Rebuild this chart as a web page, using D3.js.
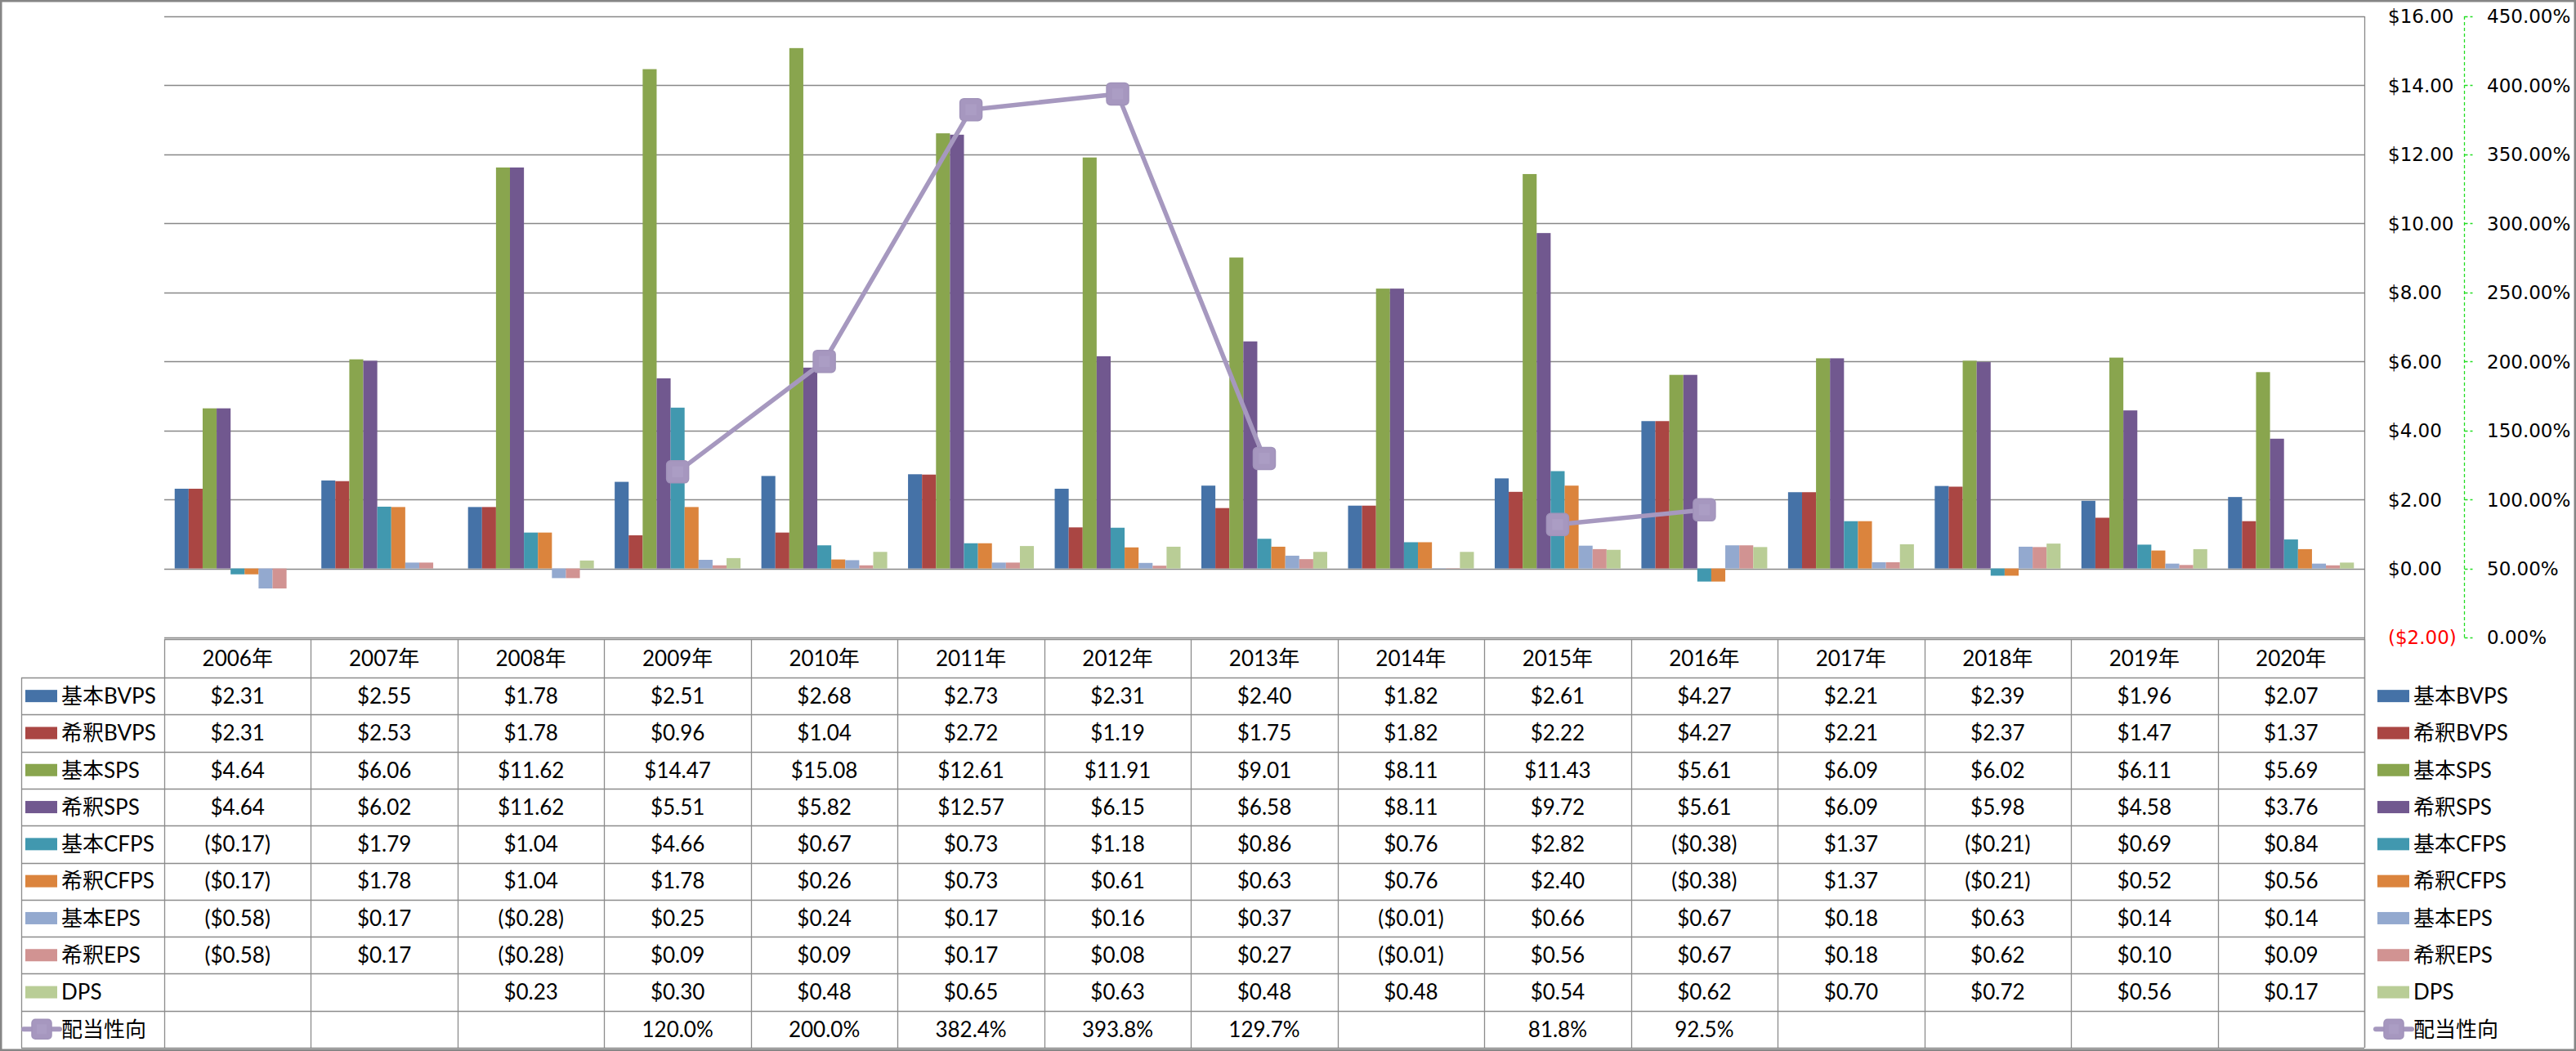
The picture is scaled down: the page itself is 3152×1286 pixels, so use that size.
<!DOCTYPE html>
<html>
<head>
<meta charset="utf-8">
<script src="https://cdn.jsdelivr.net/npm/d3@7"></script>
<style>
  html, body { margin: 0; padding: 0; background: #fff; }
  svg { display: block; }
</style>
</head>
<body>
<svg id="chart" width="3152" height="1286"></svg>
<script>
// ---------------- DATA ----------------
const years = ["2006年","2007年","2008年","2009年","2010年","2011年","2012年","2013年","2014年","2015年","2016年","2017年","2018年","2019年","2020年"];

const seriesNames = ["基本BVPS","希釈BVPS","基本SPS","希釈SPS","基本CFPS","希釈CFPS","基本EPS","希釈EPS","DPS"];
const seriesColors = ["#4572A7","#AA4643","#89A54E","#71588F","#4198AF","#DB843D","#93A9CF","#D19392","#B9CD96"];

const basicBVPS   = [2.31, 2.55, 1.78, 2.51, 2.68, 2.73, 2.31, 2.40, 1.82, 2.61, 4.27, 2.21, 2.39, 1.96, 2.07];
const dilutedBVPS = [2.31, 2.53, 1.78, 0.96, 1.04, 2.72, 1.19, 1.75, 1.82, 2.22, 4.27, 2.21, 2.37, 1.47, 1.37];
const basicSPS    = [4.64, 6.06, 11.62, 14.47, 15.08, 12.61, 11.91, 9.01, 8.11, 11.43, 5.61, 6.09, 6.02, 6.11, 5.69];
const dilutedSPS  = [4.64, 6.02, 11.62, 5.51, 5.82, 12.57, 6.15, 6.58, 8.11, 9.72, 5.61, 6.09, 5.98, 4.58, 3.76];
const basicCFPS   = [-0.17, 1.79, 1.04, 4.66, 0.67, 0.73, 1.18, 0.86, 0.76, 2.82, -0.38, 1.37, -0.21, 0.69, 0.84];
const dilutedCFPS = [-0.17, 1.78, 1.04, 1.78, 0.26, 0.73, 0.61, 0.63, 0.76, 2.40, -0.38, 1.37, -0.21, 0.52, 0.56];
const basicEPS    = [-0.58, 0.17, -0.28, 0.25, 0.24, 0.17, 0.16, 0.37, -0.01, 0.66, 0.67, 0.18, 0.63, 0.14, 0.14];
const dilutedEPS  = [-0.58, 0.17, -0.28, 0.09, 0.09, 0.17, 0.08, 0.27, -0.01, 0.56, 0.67, 0.18, 0.62, 0.10, 0.09];
const dps         = [null, null, 0.23, 0.30, 0.48, 0.65, 0.63, 0.48, 0.48, 0.54, 0.62, 0.70, 0.72, 0.56, 0.17];

const payoutName = "配当性向";
const payoutColor = "#A698BF";
const payoutRatio = [null, null, null, 120.0, 200.0, 382.4, 393.8, 129.7, null, 81.8, 92.5, null, null, null, null];

const dollarTicks  = [16, 14, 12, 10, 8, 6, 4, 2, 0, -2];
const percentTicks = [450, 400, 350, 300, 250, 200, 150, 100, 50, 0];

// ---------------- LAYOUT ----------------
const barSeries = [basicBVPS, dilutedBVPS, basicSPS, dilutedSPS, basicCFPS, dilutedCFPS, basicEPS, dilutedEPS, dps];

const svg = d3.select("#chart");
const W = 3152, H = 1286;
const plotLeft = 201, plotRight = 2893, plotTop = 20, plotBottom = 780;
const tableTop = 782, headerBottom = 829, tableBottom = 1282;
const labelColLeft = 26;
const gridColor = "#888888";
const tableFont = "Lato, 'Noto Sans CJK JP', sans-serif";
const axisFont = "'DejaVu Sans', Verdana, sans-serif";

const x = d3.scaleBand().domain(years).range([plotLeft, plotRight]).padding(0);
const bw = x.bandwidth();
const xInner = d3.scaleBand().domain(d3.range(seriesNames.length))
  .range([bw * 0.071, bw * (1 - 0.071)]).padding(0);
const y = d3.scaleLinear().domain([-2, 16]).range([plotBottom, plotTop]);
const y2 = d3.scaleLinear().domain([0, 450]).range([plotBottom, plotTop]);

// outer border
svg.append("rect").attr("x", 1.25).attr("y", 1.25).attr("width", W - 2.5).attr("height", H - 2.5)
  .attr("fill", "#fff").attr("stroke", "#868686").attr("stroke-width", 2.5);

// gridlines
svg.append("g").selectAll("line").data(dollarTicks).join("line")
  .attr("x1", plotLeft).attr("x2", plotRight)
  .attr("y1", d => Math.round(y(d)) + 0.5).attr("y2", d => Math.round(y(d)) + 0.5)
  .attr("stroke", gridColor).attr("stroke-width", 1.3);

// bars
const gBars = svg.append("g");
barSeries.forEach((vals, si) => {
  gBars.append("g").selectAll("rect")
    .data(vals.map((v, i) => ({ v, year: years[i] })).filter(d => d.v != null))
    .join("rect")
    .attr("x", d => x(d.year) + xInner(si))
    .attr("width", xInner.bandwidth())
    .attr("y", d => Math.min(y(d.v), y(0)))
    .attr("height", d => Math.abs(y(d.v) - y(0)))
    .attr("fill", seriesColors[si]);
});

// payout line
const linePts = payoutRatio.map((v, i) => ({ v, year: years[i] }));
const line = d3.line()
  .defined(d => d.v != null)
  .x(d => x(d.year) + bw / 2)
  .y(d => y2(d.v));
svg.append("path").datum(linePts).attr("d", line)
  .attr("fill", "none").attr("stroke", payoutColor).attr("stroke-width", 5.5)
  .attr("stroke-linejoin", "round");

function marker(g, cx, cy, s) {
  g.append("rect").attr("x", cx - s / 2).attr("y", cy - s / 2).attr("width", s).attr("height", s)
    .attr("rx", s * 0.18).attr("fill", "#A697BF").attr("stroke", "#A193BA").attr("stroke-width", 1.5);
  g.append("rect").attr("x", cx - s * 0.25).attr("y", cy - s * 0.25).attr("width", s * 0.5).attr("height", s * 0.5)
    .attr("fill", "#AB9DC4");
}
const gMarkers = svg.append("g");
linePts.filter(d => d.v != null).forEach(d => marker(gMarkers, x(d.year) + bw / 2, y2(d.v), 27));

// right edge of plot / table
svg.append("line").attr("x1", plotRight + 0.5).attr("x2", plotRight + 0.5)
  .attr("y1", plotTop).attr("y2", tableBottom).attr("stroke", gridColor).attr("stroke-width", 1.3);

// dollar axis labels
svg.append("g").selectAll("text").data(dollarTicks).join("text")
  .attr("x", 2922).attr("y", d => y(d) + 8.4)
  .attr("font-family", axisFont).attr("font-size", 23)
  .attr("fill", d => d < 0 ? "#FF0000" : "#000")
  .text(d => d < 0 ? "($" + Math.abs(d).toFixed(2) + ")" : "$" + d.toFixed(2));

// percent axis
const axX = 3015.5;
svg.append("line").attr("x1", axX).attr("x2", axX).attr("y1", plotTop).attr("y2", plotBottom)
  .attr("stroke", "#22DD22").attr("stroke-width", 1.3).attr("stroke-dasharray", "4,3");
svg.append("g").selectAll("line").data(percentTicks).join("line")
  .attr("x1", axX).attr("x2", axX + 10)
  .attr("y1", d => Math.round(y2(d)) + 0.5).attr("y2", d => Math.round(y2(d)) + 0.5)
  .attr("stroke", "#22DD22").attr("stroke-width", 1.3).attr("stroke-dasharray", "4,3");
svg.append("g").selectAll("text").data(percentTicks).join("text")
  .attr("x", 3043).attr("y", d => y2(d) + 8.4)
  .attr("font-family", axisFont).attr("font-size", 23).attr("fill", "#000")
  .text(d => d.toFixed(2) + "%");

// ---------------- DATA TABLE ----------------
const tableRows = seriesNames.map((n, i) => ({ name: n, vals: barSeries[i], color: seriesColors[i], type: "bar" }));
tableRows.push({ name: payoutName, vals: payoutRatio, color: payoutColor, type: "line" });
const rowH = (tableBottom - headerBottom) / tableRows.length;
const tableColor = "#8C8C8C";
const gT = svg.append("g");

// header
gT.append("line").attr("x1", plotLeft).attr("x2", plotRight).attr("y1", tableTop + 0.5).attr("y2", tableTop + 0.5)
  .attr("stroke", tableColor).attr("stroke-width", 1.3);
gT.selectAll("text.hdr").data(years).join("text").attr("class", "hdr")
  .attr("x", d => x(d) + bw / 2).attr("y", (tableTop + headerBottom) / 2 + 9.3)
  .attr("text-anchor", "middle").attr("font-family", tableFont).attr("font-size", 26)
  .text(d => d);
// vertical lines
const vlines = years.map(d => x(d)).concat([plotRight]);
gT.selectAll("line.v").data(vlines).join("line").attr("class", "v")
  .attr("x1", d => Math.round(d) + 0.5).attr("x2", d => Math.round(d) + 0.5)
  .attr("y1", tableTop).attr("y2", tableBottom)
  .attr("stroke", tableColor).attr("stroke-width", 1.3);
gT.append("line").attr("x1", labelColLeft + 0.5).attr("x2", labelColLeft + 0.5)
  .attr("y1", headerBottom).attr("y2", tableBottom).attr("stroke", tableColor).attr("stroke-width", 1.3);
// horizontal lines
d3.range(tableRows.length + 1).forEach(i => {
  const yy = Math.round(headerBottom + i * rowH) + 0.5;
  gT.append("line").attr("x1", labelColLeft).attr("x2", plotRight).attr("y1", yy).attr("y2", yy)
    .attr("stroke", tableColor).attr("stroke-width", 1.3);
});

function fmt(v, type) {
  if (v == null) return "";
  if (type === "line") return v.toFixed(1) + "%";
  return v < 0 ? "($" + Math.abs(v).toFixed(2) + ")" : "$" + v.toFixed(2);
}

function legendKey(g, r, x0, cy) {
  if (r.type === "bar") {
    g.append("rect").attr("x", x0).attr("y", cy - 7.5).attr("width", 39).attr("height", 15).attr("fill", r.color);
  } else {
    g.append("line").attr("x1", x0 - 2).attr("x2", x0 + 42).attr("y1", cy).attr("y2", cy)
      .attr("stroke", r.color).attr("stroke-width", 6).attr("stroke-linecap", "round");
    marker(g, x0 + 20, cy, 24);
  }
}

tableRows.forEach((r, ri) => {
  const cy = headerBottom + ri * rowH + rowH / 2;
  // left label
  legendKey(gT, r, 31, cy);
  gT.append("text").attr("x", 75).attr("y", cy + 9.3)
    .attr("font-family", tableFont).attr("font-size", 26).text(r.name);
  // values
  r.vals.forEach((v, i) => {
    if (v == null) return;
    gT.append("text").attr("x", x(years[i]) + bw / 2).attr("y", cy + 9.3)
      .attr("text-anchor", "middle").attr("font-family", tableFont).attr("font-size", 26)
      .text(fmt(v, r.type));
  });
  // right legend
  legendKey(gT, r, 2909, cy);
  gT.append("text").attr("x", 2953).attr("y", cy + 9.3)
    .attr("font-family", tableFont).attr("font-size", 26).text(r.name);
});
</script>
</body>
</html>
